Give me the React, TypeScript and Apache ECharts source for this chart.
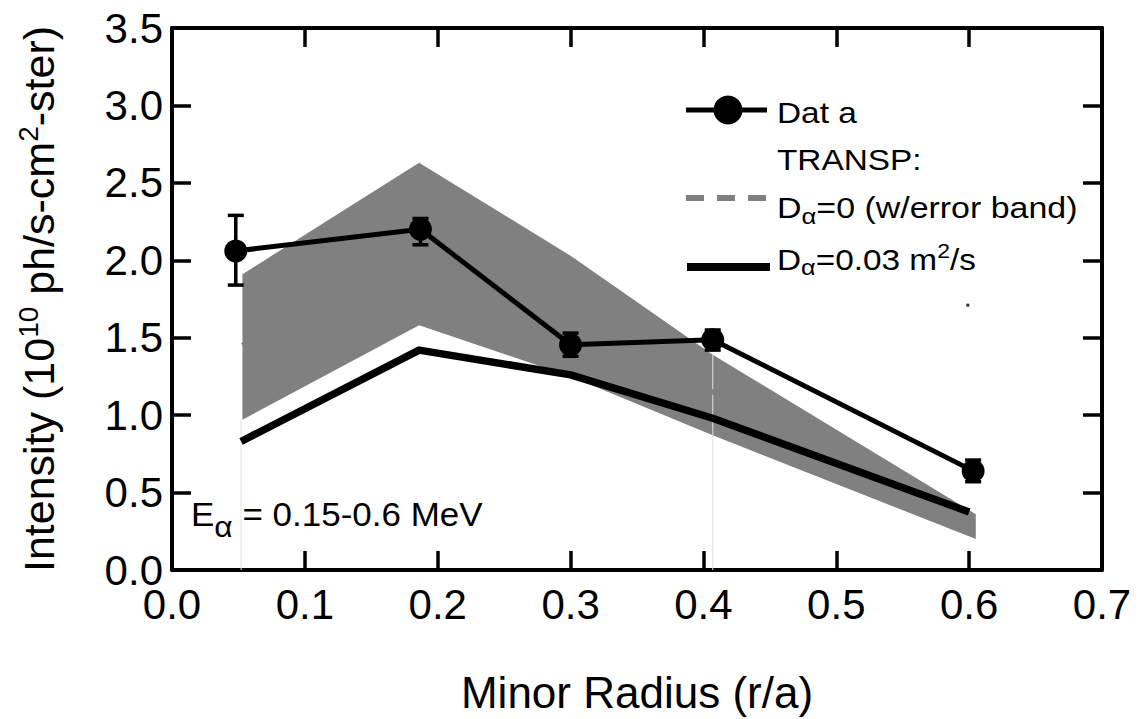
import React, { useEffect, useRef } from "react";
import * as echarts from "echarts";

// Measured data points (Data)
const dataX = [0.048, 0.187, 0.3, 0.407, 0.603];
const dataY = [2.06, 2.2, 1.455, 1.487, 0.64];
const dataErrLow = [1.84, 2.1, 1.38, 1.42, 0.57];
const dataErrHigh = [2.29, 2.27, 1.53, 1.55, 0.71];

// TRANSP D_alpha = 0 with error band
const modelX = [0.053, 0.186, 0.3, 0.407, 0.605];
const bandUpper = [1.91, 2.63, 2.03, 1.39, 0.36];
const bandLower = [0.97, 1.58, 1.25, 0.87, 0.2];
const d0X = [0.053, 0.186, 0.3, 0.407, 0.54, 0.565, 0.6];
const d0Y = [1.45, 2.17, 1.46, 1.15, 0.54, 0.48, 0.37];

// TRANSP D_alpha = 0.03 m^2/s
const d003X = [0.052, 0.186, 0.3, 0.407, 0.6];
const d003Y = [0.83, 1.42, 1.26, 0.98, 0.375];

// faint seam lines and stray dot in the original figure
const seamX = [0.052, 0.407];
const seamTop = [0.97, 1.39];
const strayDot = [[0.599, 1.71]];

const xTicks = ["0.0", "0.1", "0.2", "0.3", "0.4", "0.5", "0.6", "0.7"];
const yTicks = ["0.0", "0.5", "1.0", "1.5", "2.0", "2.5", "3.0", "3.5"];

const FONT = "'Liberation Sans', Arial, sans-serif";

export default function App() {
  const ref = useRef<HTMLDivElement>(null);

  useEffect(() => {
    if (!ref.current) return;
    const chart = echarts.init(ref.current, undefined, { renderer: "svg" });

    const axisCommon = {
      type: "value" as const,
      axisLine: { show: true, onZero: false, lineStyle: { color: "#000", width: 4 } },
      axisTick: { show: true, inside: true, length: 19, lineStyle: { color: "#000", width: 3.5 } },
      splitLine: { show: false },
    };

    const option: any = {
      animation: false,
      backgroundColor: "#fff",
      grid: { left: 172, right: 36, top: 28, bottom: 140, containLabel: false },
      xAxis: [
        {
          ...axisCommon,
          position: "bottom",
          min: 0,
          max: 0.7,
          interval: 0.1,
          axisLabel: {
            color: "#000",
            fontSize: 42,
            lineHeight: 30,
            fontFamily: FONT,
            margin: 19,
            formatter: (v: number) => xTicks[Math.round(v * 10)] ?? "",
          },
          name: "Minor Radius (r/a)",
          nameLocation: "middle",
          nameGap: 100,
          nameTextStyle: { color: "#000", fontSize: 44, fontFamily: FONT },
        },
        {
          ...axisCommon,
          position: "top",
          min: 0,
          max: 0.7,
          interval: 0.1,
          axisLabel: { show: false },
        },
      ],
      yAxis: [
        {
          ...axisCommon,
          position: "left",
          min: 0,
          max: 3.5,
          interval: 0.5,
          axisLabel: {
            color: "#000",
            fontSize: 42,
            lineHeight: 30,
            fontFamily: FONT,
            margin: 9,
            formatter: (v: number) => yTicks[Math.round(v * 2)] ?? "",
          },
          name: "{a|Intensity (10}{sup|10}{a| ph/s-cm}{sup|2}{a|-ster)}",
          nameLocation: "middle",
          nameRotate: 90,
          nameGap: 108,
          nameTextStyle: {
            color: "#000",
            fontFamily: FONT,
            rich: {
              a: { fontSize: 43, fontFamily: FONT, color: "#000" },
              sup: { fontSize: 28, fontFamily: FONT, color: "#000", padding: [0, 0, 22, 0] },
            },
          },
        },
        {
          ...axisCommon,
          position: "right",
          min: 0,
          max: 3.5,
          interval: 0.5,
          axisLabel: { show: false },
        },
      ],
      series: [
        {
          type: "custom",
          name: "band",
          z: 1,
          data: modelX.map((x, i) => [x, bandLower[i], bandUpper[i]]),
          encode: { x: 0, y: [1, 2] },
          renderItem: (params: any, api: any) => {
            if (params.dataIndex !== 0) return null;
            const pts: number[][] = [];
            for (let i = 0; i < modelX.length; i++) pts.push(api.coord([modelX[i], bandUpper[i]]));
            for (let i = modelX.length - 1; i >= 0; i--) pts.push(api.coord([modelX[i], bandLower[i]]));
            return {
              type: "polygon",
              shape: { points: pts },
              style: { fill: "#808080", stroke: "none" },
            };
          },
        },
        {
          type: "custom",
          name: "seams",
          z: 2,
          data: seamX.map((x, i) => [x, 0, seamTop[i]]),
          encode: { x: 0, y: [1, 2] },
          renderItem: (params: any, api: any) => {
            const a = api.coord([api.value(0), api.value(1)]);
            const b = api.coord([api.value(0), api.value(2)]);
            return {
              type: "line",
              shape: { x1: a[0], y1: a[1], x2: b[0], y2: b[1] },
              style: { stroke: "#dedede", lineWidth: 1 },
            };
          },
        },
        {
          type: "line",
          name: "D0",
          z: 3,
          data: d0X.map((x, i) => [x, d0Y[i]]),
          symbol: "none",
          lineStyle: { color: "#808080", width: 5, type: [18, 12] },
        },
        {
          type: "line",
          name: "D003",
          z: 4,
          data: d003X.map((x, i) => [x, d003Y[i]]),
          symbol: "none",
          lineStyle: { color: "#000", width: 7.5, join: "round" },
        },
        {
          type: "custom",
          name: "errors",
          z: 5,
          data: dataX.map((x, i) => [x, dataErrLow[i], dataErrHigh[i]]),
          encode: { x: 0, y: [1, 2] },
          renderItem: (params: any, api: any) => {
            const x = api.value(0);
            const lo = api.coord([x, api.value(1)]);
            const hi = api.coord([x, api.value(2)]);
            const w = 8;
            const st = { stroke: "#000", lineWidth: 3.5 };
            return {
              type: "group",
              children: [
                { type: "line", shape: { x1: lo[0], y1: lo[1], x2: hi[0], y2: hi[1] }, style: st },
                { type: "line", shape: { x1: lo[0] - w, y1: lo[1], x2: lo[0] + w, y2: lo[1] }, style: st },
                { type: "line", shape: { x1: hi[0] - w, y1: hi[1], x2: hi[0] + w, y2: hi[1] }, style: st },
              ],
            };
          },
        },
        {
          type: "line",
          name: "Data",
          z: 6,
          data: dataX.map((x, i) => [x, dataY[i]]),
          symbol: "circle",
          symbolSize: 23,
          lineStyle: { color: "#000", width: 5 },
          itemStyle: { color: "#000" },
        },
        {
          type: "scatter",
          name: "dot",
          z: 6,
          data: strayDot,
          symbol: "rect",
          symbolSize: 3,
          itemStyle: { color: "#000" },
        },
      ],
      graphic: [
        // Legend
        { type: "line", shape: { x1: 686, y1: 110, x2: 767, y2: 110 }, style: { stroke: "#000", lineWidth: 5 } },
        { type: "circle", shape: { cx: 728, cy: 110, r: 14.5 }, style: { fill: "#000" } },
        {
          type: "text",
          x: 777,
          y: 113,
          scaleX: 1.15,
          style: { text: "Dat a", fontSize: 29, fontFamily: FONT, fill: "#000", verticalAlign: "middle" },
        },
        {
          type: "text",
          x: 777,
          y: 160,
          scaleX: 1.15,
          style: { text: "TRANSP:", fontSize: 29, fontFamily: FONT, fill: "#000", verticalAlign: "middle" },
        },
        {
          type: "line",
          shape: { x1: 686, y1: 198, x2: 767, y2: 198 },
          style: { stroke: "#808080", lineWidth: 6, lineDash: [18, 13] },
        },
        {
          type: "text",
          x: 777,
          y: 208,
          scaleX: 1.17,
          style: {
            text: "{a|D}{sub|α}{a|=0 (w/error band)}",
            fontFamily: FONT,
            fill: "#000",
            verticalAlign: "middle",
            rich: {
              a: { fontSize: 29, fontFamily: FONT, fill: "#000" },
              sub: { fontSize: 22, fontFamily: FONT, fill: "#000", padding: [16, 0, 0, 0] },
            },
          },
        },
        { type: "line", shape: { x1: 687, y1: 267, x2: 770, y2: 267 }, style: { stroke: "#000", lineWidth: 8 } },
        {
          type: "text",
          x: 777,
          y: 260,
          scaleX: 1.15,
          style: {
            text: "{a|D}{sub|α}{a|=0.03 m}{sup|2}{a|/s}",
            fontFamily: FONT,
            fill: "#000",
            verticalAlign: "middle",
            rich: {
              a: { fontSize: 29, fontFamily: FONT, fill: "#000" },
              sub: { fontSize: 22, fontFamily: FONT, fill: "#000", padding: [16, 0, 0, 0] },
              sup: { fontSize: 20, fontFamily: FONT, fill: "#000", padding: [0, 0, 18, 0] },
            },
          },
        },
        // Energy annotation
        {
          type: "text",
          x: 191,
          y: 514,
          scaleX: 1.06,
          style: {
            text: "{a|E}{sub|α}{a| = 0.15-0.6 MeV}",
            fontFamily: FONT,
            fill: "#000",
            verticalAlign: "middle",
            rich: {
              a: { fontSize: 33, fontFamily: FONT, fill: "#000" },
              sub: { fontSize: 30, fontFamily: FONT, fill: "#000", padding: [26, 0, 0, 0] },
            },
          },
        },
      ],
    };

    chart.setOption(option);
    return () => chart.dispose();
  }, []);

  return (
    <div
      ref={ref}
      style={{ position: "absolute", left: 0, top: 0, width: 1138, height: 719 }}
    />
  );
}
